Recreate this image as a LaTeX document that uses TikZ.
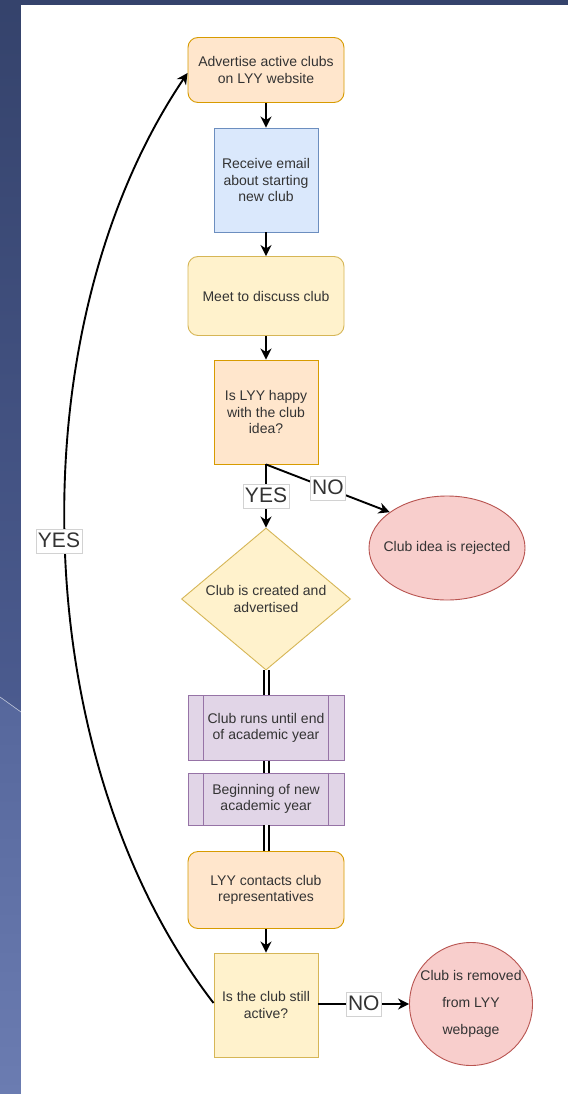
\documentclass[tikz,border=0pt]{standalone}
\usepackage{fontspec}
\setmainfont{Liberation Sans}
\usetikzlibrary{shapes.geometric,arrows.meta}
\definecolor{orF}{HTML}{FFE6CC}\definecolor{orD}{HTML}{D79B00}
\definecolor{blF}{HTML}{DAE8FC}\definecolor{blD}{HTML}{6C8EBF}
\definecolor{yeF}{HTML}{FFF2CC}\definecolor{yeD}{HTML}{D6B656}
\definecolor{reF}{HTML}{F8CECC}\definecolor{reD}{HTML}{B85450}
\definecolor{puF}{HTML}{E1D5E7}\definecolor{puD}{HTML}{9673A6}
\definecolor{txt}{HTML}{333333}
\definecolor{bgA}{HTML}{35436C}\definecolor{bgB}{HTML}{4B5B8F}
\definecolor{bgC}{HTML}{56679C}\definecolor{bgD}{HTML}{6B7CB1}
\newcommand\nfnt{\fontsize{14}{16.7}\selectfont}
\newcommand\lfnt{\fontsize{21}{24}\selectfont}
\begin{document}
\begin{tikzpicture}[x=1pt,y=-1pt,
  base/.style={draw, line width=0.9pt, inner sep=0pt, align=center, font=\nfnt, text=txt},
  orbox/.style={base, fill=orF, draw=orD},
  blbox/.style={base, fill=blF, draw=blD},
  yebox/.style={base, fill=yeF, draw=yeD},
  rebox/.style={base, fill=reF, draw=reD},
  pubox/.style={base, fill=puF, draw=puD, minimum width=156pt},
  rnd/.style={rounded corners=10pt},
  sq/.style={minimum width=104pt, minimum height=104pt},
  arr/.style={line width=1.9pt, -{Stealth[length=11pt,width=11pt,inset=3.5pt]}},
  link/.style={line width=2pt, double=white, double distance=3pt},
  lbl/.style={fill=white, draw=gray!35, line width=0.4pt, font=\lfnt, text=txt,
    text height=15pt, text depth=3pt, inner xsep=2pt, inner ysep=3pt}]
\useasboundingbox (0,0) rectangle (568,1094);
% background
\fill[bgA] (0,0) rectangle (568,5);
\shade[top color=bgA, bottom color=bgB] (0,5) -- (21,5) -- (21,712) -- (0,697) -- cycle;
\shade[top color=bgC, bottom color=bgD] (0,697) -- (21,712) -- (21,1094) -- (0,1094) -- cycle;
\draw[white!60!bgC, line width=0.6pt] (0,697) -- (21,712);
\fill[white] (21,5) rectangle (568,1094);
% nodes
\node[orbox, rnd, minimum width=156pt, minimum height=65pt] (n1) at (266,70) {Advertise active clubs\\on LYY website};
\node[blbox, sq] (n2) at (266,180) {Receive email\\about starting\\new club};
\node[yebox, rnd, minimum width=156pt, minimum height=79pt] (n3) at (266,296) {Meet to discuss club};
\node[orbox, sq] (n4) at (266,412) {Is LYY happy\\with the club\\idea?};
\node[rebox, ellipse, minimum width=156pt, minimum height=104pt] (n5) at (447,548) {\makebox[0pt]{Club idea is rejected}};
\node[yebox, diamond, aspect=1.19, minimum width=169pt, minimum height=142pt] (n6) at (266,599) {Club is created and\\advertised};
\node[pubox, minimum height=65pt] (n7) at (266,728) {Club runs until end\\of academic year};
\node[pubox, minimum height=52pt] (n8) at (266,799) {Beginning of new\\academic year};
\node[orbox, rnd, minimum width=156pt, minimum height=77pt] (n9) at (266,890) {LYY contacts club\\representatives};
\node[yebox, sq] (n10) at (266,1005) {Is the club still\\active?};
\node[rebox, circle, minimum size=123pt, font=\fontsize{14}{27}\selectfont] (n11) at (471,1004) {Club is removed\\from LYY\\webpage};
% process side bars
\foreach \n in {n7,n8}{
  \draw[puD, line width=0.9pt] ([xshift=16pt]\n.north west) -- ([xshift=16pt]\n.south west);
  \draw[puD, line width=0.9pt] ([xshift=-16pt]\n.north east) -- ([xshift=-16pt]\n.south east);
}
% connectors
\draw[arr] (n1) -- (n2);
\draw[arr] (n2) -- (n3);
\draw[arr] (n3) -- (n4);
\draw[arr] (n4.south) -- node[lbl] (lyes) {YES} (n6.north);
\draw[arr] (n4.south) -- node[lbl] (lno) {NO} (n5.148);
\draw[link] (n6.south) -- (n7.north);
\draw[link] (n7.south) -- (n8.north);
\draw[link] (n8.south) -- (n9.north);
\draw[arr] (n9) -- (n10);
\draw[arr] ([yshift=1pt]n10.east) -- node[lbl] (lno2) {NO} ([yshift=1pt]n10.east -| n11.west);
\draw[arr] ([yshift=2pt]n10.west) .. controls (26,760) and (14,330) .. ([yshift=-3pt]n1.west);
\node[lbl] (lyes2) at (59,541) {YES};
\end{tikzpicture}
\end{document}
